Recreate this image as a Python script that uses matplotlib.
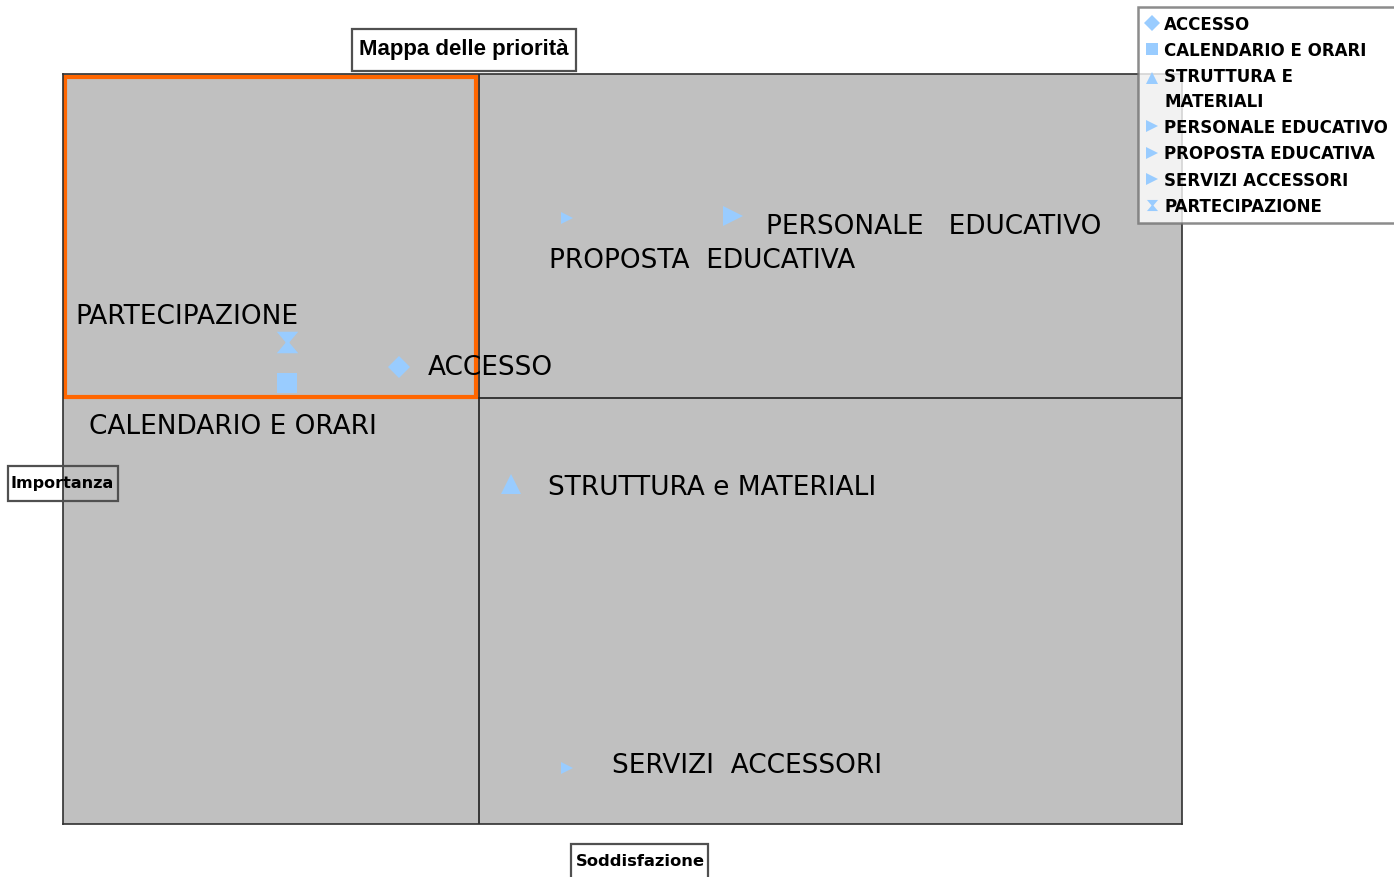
import numpy as np
import matplotlib
matplotlib.use("Agg")
import matplotlib.pyplot as plt
from matplotlib.patches import Rectangle
from matplotlib.transforms import Affine2D

# dati: soddisfazione (x) e importanza (y), scala 0-100
voci = ["ACCESSO", "CALENDARIO E ORARI", "STRUTTURA E\nMATERIALI",
        "PERSONALE EDUCATIVO", "PROPOSTA EDUCATIVA", "SERVIZI ACCESSORI",
        "PARTECIPAZIONE"]
etichette = ["ACCESSO", "CALENDARIO E ORARI", "STRUTTURA e MATERIALI",
             "PERSONALE   EDUCATIVO", "PROPOSTA  EDUCATIVA",
             "SERVIZI  ACCESSORI", "PARTECIPAZIONE"]
soddisfazione = [30.0, 20.0, 40.0, 59.9, 45.0, 45.0, 20.0]
importanza = [60.9, 58.8, 45.3, 81.1, 80.8, 7.5, 64.3]
media_sodd = 37.2
media_imp = 56.8

# stile
clessidra = [(-1, 1), (1, 1), (0.2, 0.05), (0.2, -0.05), (1, -1), (-1, -1),
             (-0.2, -0.05), (-0.2, 0.05), (-1, 1)]
marker = ["D", "s", "^", ">", ">", ">", clessidra]
msize = [11, 14.5, 14, 14, 8, 8, 15.5]
# posizione etichette (in dati)
lab_xy = [(32.6, 60.9), (2.3, 53.0), (43.3, 44.9), (62.8, 79.7),
          (43.4, 75.2), (49.1, 7.8), (1.1, 67.8)]
blu = "#99CCFF"
W, H = 1394, 878

fig = plt.figure(figsize=(13.94, 8.78), dpi=100)
ax = fig.add_axes([63/W, 53/H, 1119/W, 750/H])
ax.set_facecolor("#C0C0C0")
ax.set_xlim(0, 100)
ax.set_ylim(0, 100)
ax.set_xticks([])
ax.set_yticks([])
for s in ax.spines.values():
    s.set_color("#303030")
    s.set_linewidth(1.2)

ax.axvline(media_sodd, color="#202020", lw=1.2, zorder=1)
ax.axhline(media_imp, color="#202020", lw=1.2, zorder=1)

# riquadro priorità
ax.add_patch(Rectangle((0.2, media_imp + 0.2), media_sodd - 0.5, 100 - media_imp - 0.6,
                       fill=False, edgecolor="#FF6600", lw=3, zorder=2))

handles = []
for i in range(len(voci)):
    h, = ax.plot(soddisfazione[i], importanza[i], linestyle="none",
                 marker=marker[i], markersize=msize[i], color=blu,
                 markeredgewidth=0, label=voci[i], zorder=3)
    handles.append(h)
    ax.text(lab_xy[i][0], lab_xy[i][1], etichette[i], fontsize=19,
            family="DejaVu Sans", va="center", ha="left", zorder=4)

leg = fig.legend(handles=handles, loc="upper left",
                 bbox_to_anchor=(1138/W, 1 - 8/H), frameon=True,
                 fancybox=False, handlelength=0.7, handletextpad=0.4,
                 borderpad=0.47, borderaxespad=0, labelspacing=0.5,
                 prop={"family": "DejaVu Sans", "weight": "bold", "size": 12.0})
leg.get_frame().set_edgecolor("#707070")
leg.get_frame().set_linewidth(1.8)
for hh in leg.legend_handles:
    hh.set_markersize(8)
for t in leg.get_texts():
    t.set_linespacing(1.45)
# marcatore della voce su due righe allineato alla prima riga
hh = leg.legend_handles[2]
hh.set_transform(hh.get_transform() + Affine2D().translate(0, 12))


def riquadro(x0, y0, x1, y1, testo, size, family, cx, cy):
    fig.add_artist(Rectangle((x0/W, 1 - y1/H), (x1 - x0)/W, (y1 - y0)/H,
                             transform=fig.transFigure, facecolor="none",
                             edgecolor="#505050", lw=1.6, zorder=5))
    fig.text(cx/W, 1 - cy/H, testo, ha="center", va="center", fontsize=size,
             fontweight="bold", family=family, zorder=6)


riquadro(352, 30, 576, 72, "Mappa delle priorità", 16, "Liberation Sans", 464, 50)
riquadro(8, 467, 118, 502, "Importanza", 11.5, "DejaVu Sans", 62, 484)
riquadro(571, 845, 708, 890, "Soddisfazione", 11.8, "DejaVu Sans", 640, 862)

fig.savefig("out.png", dpi=100)
